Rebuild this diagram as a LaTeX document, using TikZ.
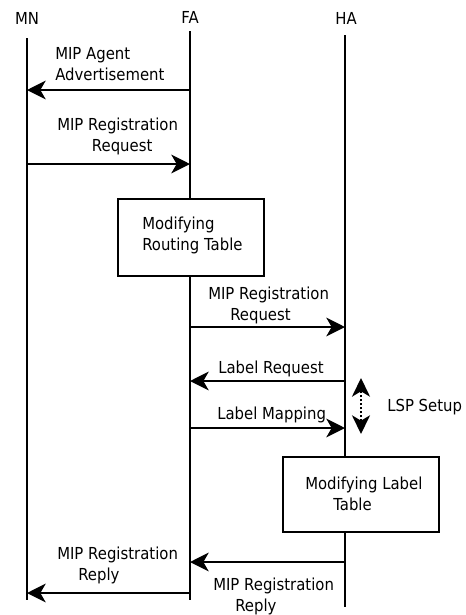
\documentclass[tikz,border=0pt]{standalone}
\usepackage{fontspec}
\setmainfont{DejaVu Sans}[FakeStretch=0.9]
\usetikzlibrary{arrows.meta}
\begin{document}
\begin{tikzpicture}[x=0.75pt,y=-0.75pt,
  font=\fontsize{12.4pt}{15.75pt}\selectfont,
  life/.style={line width=1.6pt},
  msg/.style={line width=1.6pt,-{Stealth[length=14pt,width=14pt,inset=4pt]}},
  lsp/.style={line width=1.6pt,dash pattern=on 1.5pt off 1.5pt,
    {Stealth[length=14pt,width=13.5pt,inset=4pt]}-{Stealth[length=14pt,width=13.5pt,inset=4pt]}},
  lbl/.style={inner sep=0pt,anchor=west,align=left},
  head/.style={inner sep=0pt},
  procbox/.style={draw,line width=1.6pt,fill=white}]
\useasboundingbox (0,0) rectangle (466,615);

% entity names
\node[head] (mn) at (27,18.5) {MN};
\node[head] (fa) at (190,17.5) {FA};
\node[head] (ha) at (346,18) {HA};

% lifeline ends
\coordinate (mnTop) at (27,38);  \coordinate (mnBot) at (27,600);
\coordinate (faTop) at (190,31); \coordinate (faBot) at (190,600);
\coordinate (haTop) at (345,35); \coordinate (haBot) at (345,607);
\draw[life] (mnTop) -- (mnBot);
\draw[life] (faTop) -- (faBot);
\draw[life] (haTop) -- (haBot);

% message anchor points on the lifelines
\foreach \n/\y in {1/90,2/164,7/593} {
  \coordinate (mn\n) at (27,\y);
}
\foreach \n/\y in {1/90,2/164,3/327,4/381,5/428,6/562,7/593} {
  \coordinate (fa\n) at (190,\y);
}
\foreach \n/\y in {3/327,4/381,5/428,6/562} {
  \coordinate (ha\n) at (345,\y);
}

% messages
\draw[msg] (fa1) -- (mn1);
\node[lbl] (t1) at (55,64.5) {MIP Agent\\Advertisement};

\draw[msg] (mn2) -- (fa2);
\node[lbl] (t2) at (57,136.5) {MIP Registration\\\hspace*{26pt}Request};

% routing table update at FA
\node[procbox,minimum width=109.5pt,minimum height=57.75pt] (rtab) at (191,237.5) {};
\node[lbl] (rtabtxt) at (142,235) {Modifying\\Routing Table};

\draw[msg] (fa3) -- (ha3);
\node[lbl] (t3) at (208,305) {MIP Registration\\\hspace*{16.5pt}Request};

\draw[msg] (ha4) -- (fa4);
\node[lbl] (t4) at (218,368.5) {Label Request};

\draw[msg] (fa5) -- (ha5);
\node[lbl] (t5) at (217,415) {Label Mapping};

% LSP setup span
\coordinate (lspTop) at (361,378);
\coordinate (lspBot) at (361,434);
\draw[lsp] (lspBot) -- (lspTop);
\node[lbl] (lsptxt) at (387,407) {LSP Setup};

% label table update at HA
\node[procbox,minimum width=117pt,minimum height=56.25pt] (ltab) at (361,494.5) {};
\node[lbl] (ltabtxt) at (305,494) {Modifying Label\\\hspace*{21pt}Table};

\draw[msg] (ha6) -- (fa6);
\node[lbl] (t6) at (213,596.5) {MIP Registration\\\hspace*{16.5pt}Reply};

\draw[msg] (fa7) -- (mn7);
\node[lbl] (t7) at (57,565.5) {MIP Registration\\\hspace*{15.75pt}Reply};
\end{tikzpicture}
\end{document}
